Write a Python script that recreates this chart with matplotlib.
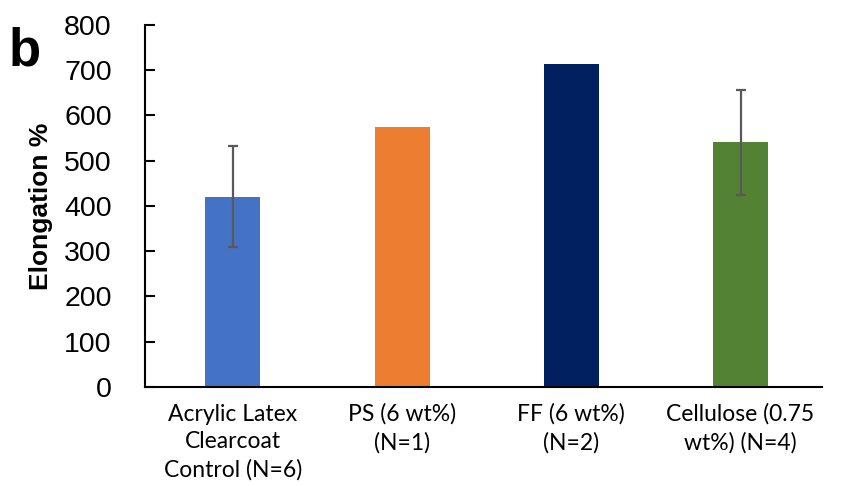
import matplotlib
matplotlib.use("Agg")
import matplotlib.pyplot as plt
import numpy as np

# data
categories = ["Acrylic Latex\nClearcoat\nControl (N=6)", "PS (6 wt%)\n(N=1)",
              "FF (6 wt%)\n(N=2)", "Cellulose (0.75\nwt%) (N=4)"]
elongation = [420, 574, 714, 540]
err = [112, 0, 0, 117]
has_err = [True, False, False, True]
bar_colors = ["#4472C4", "#ED7D31", "#002060", "#548235"]
yticks = [0, 100, 200, 300, 400, 500, 600, 700, 800]

fig = plt.figure(figsize=(8.48, 4.86), dpi=100)
ax = fig.add_axes([0.171, 0.204, 0.798, 0.745])

x = np.arange(len(categories))
ax.bar(x, elongation, width=0.325, color=bar_colors, zorder=2)
for xi, v, e, show in zip(x, elongation, err, has_err):
    if show:
        ax.errorbar(xi, v, yerr=e, fmt="none", ecolor="#595959",
                    elinewidth=1.6, capsize=3.7, capthick=1.6, zorder=3)

ax.set_xlim(-0.52, 3.48)
ax.set_ylim(0, 800)
ax.set_yticks(yticks)
ax.set_xticks(x)
ax.set_xticklabels(categories, fontsize=16.5, family="Lato", linespacing=1.38)
for lbl in ax.get_yticklabels():
    lbl.set_fontfamily("Liberation Sans")
    lbl.set_fontsize(20.5)
ax.tick_params(axis="y", direction="in", length=7, width=1.5, pad=24, colors="black")
ax.tick_params(axis="x", length=0, pad=12)

for s in ["top", "right"]:
    ax.spines[s].set_visible(False)
for s in ["left", "bottom"]:
    ax.spines[s].set_linewidth(1.5)
    ax.spines[s].set_color("black")

ax.set_ylabel("Elongation %", fontsize=19, fontweight="bold",
              family="Liberation Sans", labelpad=8)
fig.text(0.01, 0.895, "b", fontsize=38, fontweight="bold",
         family="Liberation Sans", va="center")

fig.savefig("out.png", dpi=100)
